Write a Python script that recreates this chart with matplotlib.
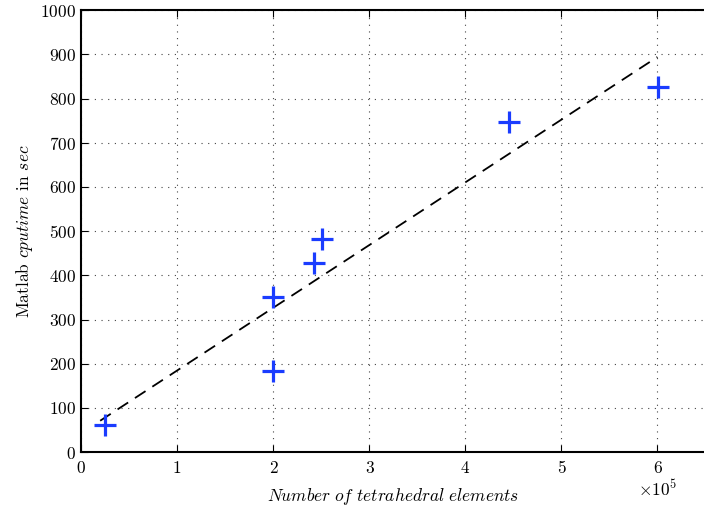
import matplotlib as mpl
mpl.use('Agg')
import matplotlib.pyplot as plt

plt.rcParams['font.family'] = 'serif'
plt.rcParams['font.serif'] = ['cmr10']
plt.rcParams['mathtext.fontset'] = 'cm'
plt.rcParams['axes.formatter.use_mathtext'] = True
plt.rcParams['axes.unicode_minus'] = False

# measured points
n_elements = [0.25e5, 2.0e5, 2.0e5, 2.43e5, 2.51e5, 4.46e5, 6.01e5]
cputime = [62, 351, 183, 427, 483, 747, 826]

# fitted trend line end points
fit_x = [0.2e5, 6.0e5]
fit_y = [71, 894]

fig = plt.figure(figsize=(7.04, 5.08), dpi=100)
ax = fig.add_axes([0.115, 0.11, 0.887, 0.87])

ax.plot(fit_x, fit_y, color='black', linestyle=(0, (7, 4.5)), linewidth=1.3)
ax.plot(n_elements, cputime, linestyle='none', marker='+', markersize=16,
        markeredgewidth=2.3, color='#1a3cff')

ax.set_xlim(0, 6.5e5)
ax.set_ylim(0, 1000)
ax.set_xticks([i * 1e5 for i in range(7)])
ax.set_xticklabels([str(i) for i in range(7)])
ax.set_yticks(range(0, 1001, 100))
ax.grid(True, linestyle=(0, (1, 5)), color='#444444', linewidth=0.8)
ax.tick_params(direction='in', top=True, right=False, labelsize=12.5, length=5)
ax.tick_params(axis='x', pad=6)
for s in ax.spines.values():
    s.set_linewidth(1.5)
ax.spines['right'].set_visible(False)

ax.text(6e5, -0.06, r'$\times10^{5}$', transform=ax.get_xaxis_transform(),
        ha='center', va='top', fontsize=12.5)
ax.set_xlabel(r'$Number\ of\ tetrahedral\ elements$', fontsize=12.5, labelpad=7)
ax.set_ylabel(r'Matlab $cputime$ in $sec$', fontsize=12.5)

fig.savefig('out.png', dpi=100)
